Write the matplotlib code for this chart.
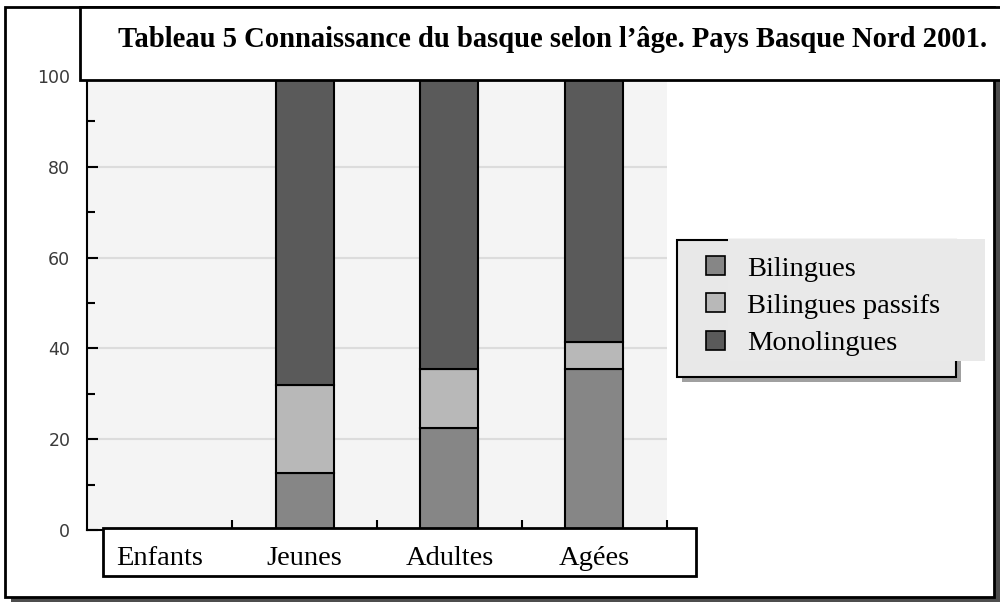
import numpy as np
import matplotlib
matplotlib.use("Agg")
import matplotlib.pyplot as plt
from matplotlib.patches import Rectangle, Patch
from matplotlib.transforms import blended_transform_factory

# Donnees (en %)
categories = ["Enfants", "Jeunes", "Adultes", "Agées"]
bilingues = [0, 12.5, 22.5, 35.5]
passifs = [0, 19.5, 13.0, 6.0]
monolingues = [0, 68.0, 64.5, 58.5]
series_noms = ["Bilingues", "Bilingues passifs", "Monolingues"]
couleurs = ["#868686", "#b8b8b8", "#5a5a5a"]
titre = "Tableau 5 Connaissance du basque selon l\u2019âge. Pays Basque Nord 2001."

W, H = 1000, 603
fig = plt.figure(figsize=(W / 100, H / 100), dpi=100)
fig.patch.set_facecolor("white")


def rect_px(x0, y0, x1, y1, **kw):
    # rectangle en pixels (origine en haut a gauche) -> coordonnees figure
    return Rectangle((x0 / W, 1 - y1 / H), (x1 - x0) / W, (y1 - y0) / H,
                     transform=fig.transFigure, **kw)


# cadre exterieur + ombre
fig.patches.append(rect_px(11, 13, 1000, 602, facecolor="#4d4d4d", edgecolor="none", zorder=-3))
fig.patches.append(rect_px(5, 7, 994, 597, facecolor="white", edgecolor="black", lw=2, zorder=-2))

ax = fig.add_axes([87 / W, 1 - 530 / H, 580 / W, 454 / H])
ax.set_facecolor("#f4f4f4")

x = np.arange(len(categories))
bas = np.zeros(len(categories))
for vals, nom, c in zip([bilingues, passifs, monolingues], series_noms, couleurs):
    ax.bar(x, vals, width=0.4, bottom=bas, color=c, edgecolor="black", linewidth=1.5, zorder=3)
    bas += np.array(vals)

ax.set_xlim(-0.5, 3.5)
ax.set_ylim(0, 100)
ax.set_yticks([0, 20, 40, 60, 80, 100])
ax.set_yticks([10, 30, 50, 70, 90], minor=True)
ax.set_xticks([0.5, 1.5, 2.5, 3.5])
ax.set_xticklabels([])
ax.tick_params(axis="y", which="major", direction="in", length=8, width=1.5, pad=12,
               labelsize=12.5, labelcolor="#3a3a3a")
ax.tick_params(axis="y", which="minor", direction="in", length=6, width=1.5)
ax.tick_params(axis="x", direction="in", length=7, width=1.5)
ax.yaxis.grid(True, color="#dcdcdc", linewidth=1.5, zorder=0)
ax.set_axisbelow(True)
for s in ["top", "right"]:
    ax.spines[s].set_visible(False)
for s in ["left", "bottom"]:
    ax.spines[s].set_linewidth(1.5)

serif = ["Liberation Serif", "DejaVu Serif"]

# bandeau du titre
fig.patches.append(rect_px(80, 7, 1010, 80, facecolor="white", edgecolor="black", lw=2, zorder=5))
fig.text(118 / W, 1 - 47 / H, titre, fontsize=20.6, fontweight="bold", family=serif,
         va="baseline", ha="left", zorder=6)

# boite des categories
fig.patches.append(rect_px(103, 528, 696, 576, facecolor="white", edgecolor="black", lw=2, zorder=5))
trans = blended_transform_factory(ax.transData, fig.transFigure)
for xi, cat in zip(x, categories):
    fig.text(xi, 1 - 565 / H, cat, transform=trans, fontsize=20.5, family=serif,
             ha="center", va="baseline", zorder=6)

# legende
fig.patches.append(rect_px(682, 245, 961, 382, facecolor="#a0a0a0", edgecolor="none", zorder=4))
fig.patches.append(rect_px(677, 240, 956, 377, facecolor="#e8e8e8", edgecolor="black", lw=1.5, zorder=5))
fig.patches.append(rect_px(728, 239, 985, 361, facecolor="#e9e9e9", edgecolor="none", zorder=5.5))
poignees = [Patch(facecolor=c, edgecolor="black", linewidth=1.2) for c in couleurs]
leg = fig.legend(poignees, series_noms, loc="upper left", bbox_to_anchor=(706 / W, 1 - 256 / H),
                 frameon=False, prop={"family": serif, "size": 20.5},
                 handlelength=0.65, handleheight=0.65, handletextpad=0.8,
                 labelspacing=0.42, borderpad=0, borderaxespad=0)
leg.set_zorder(6)

fig.savefig("out.png", dpi=100)
